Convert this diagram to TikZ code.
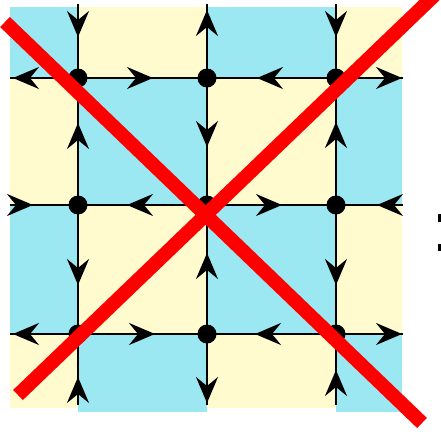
\documentclass[tikz,border=0pt]{standalone}
\usetikzlibrary{arrows.meta,decorations.markings}
\definecolor{tcyan}{RGB}{155,232,242}
\definecolor{tyel}{RGB}{255,251,207}
\definecolor{xred}{RGB}{255,0,0}
\tikzset{
  myarrow/.tip={Stealth[length=26pt,width=22pt,inset=9pt]},
  dot/.style={circle,fill=black,inner sep=0pt,minimum size=19pt},
  gridline/.style={line width=2.3pt,black},
  fw/.style={gridline,postaction={decorate},decoration={markings,mark=at position #1 with {\arrow{myarrow}}}},
  bw/.style={gridline,postaction={decorate},decoration={markings,mark=at position #1 with {\arrowreversed{myarrow}}}},
  cross/.style={xred,line width=14pt},
  tile/.style={fill=tcyan}
}
\begin{document}
\begin{tikzpicture}[x=1pt,y=-1pt]
\useasboundingbox (0,0) rectangle (441,434);
% checkerboard
\fill[tyel] (10,7) rectangle (402,408);
\fill[tile] (10,7) rectangle (78,78);
\fill[tile] (207,7) rectangle (336,78);
\fill[tile] (78,78) rectangle (207,205);
\fill[tile] (336,78) rectangle (402,205);
\fill[tile] (10,205) rectangle (78,334);
\fill[tile] (207,205) rectangle (336,334);
\fill[tile] (78,334) rectangle (207,412);
\fill[tile] (336,334) rectangle (402,412);
% grid points
\coordinate (A1) at (78,78);  \coordinate (A2) at (207,78);  \coordinate (A3) at (336,78);
\coordinate (B1) at (78,205); \coordinate (B2) at (207,205); \coordinate (B3) at (336,205);
\coordinate (C1) at (78,334); \coordinate (C2) at (207,334); \coordinate (C3) at (336,334);
% free ends
\coordinate (LA) at (10,78);  \coordinate (RA) at (403,78);
\coordinate (LB) at (10,205); \coordinate (RB) at (403,205);
\coordinate (LC) at (10,334); \coordinate (RC) at (403,334);
\coordinate (T1) at (78,4);   \coordinate (D1) at (78,405);
\coordinate (T2) at (207,4);  \coordinate (D2) at (207,405);
\coordinate (T3) at (336,4);  \coordinate (D3) at (336,405);
% row A
\draw[fw=-3pt] (A1) -- (LA);
\draw[fw=75pt] (A1) -- (A2);
\draw[bw=50pt] (A2) -- (A3);
\draw[fw=-1pt] (A3) -- (RA);
% row B
\draw[bw=45pt] (B1) -- (LB);
\draw[bw=49pt] (B1) -- (B2);
\draw[fw=75pt] (B2) -- (B3);
\draw[bw=41pt] (B3) -- (RB);
% row C
\draw[fw=-3pt] (C1) -- (LC);
\draw[fw=77pt] (C1) -- (C2);
\draw[bw=48pt] (C2) -- (C3);
\draw[fw=-1pt] (C3) -- (RC);
% column 1
\draw[bw=41pt] (A1) -- (T1);
\draw[bw=45pt] (A1) -- (B1);
\draw[fw=80pt] (B1) -- (C1);
\draw[bw=43pt] (C1) -- (D1);
% column 2
\draw[fw=-6pt] (A2) -- (T2);
\draw[fw=69pt] (A2) -- (B2);
\draw[bw=48pt] (B2) -- (C2);
\draw[fw=-2pt] (C2) -- (D2);
% column 3
\draw[bw=41pt] (A3) -- (T3);
\draw[bw=44pt] (A3) -- (B3);
\draw[fw=80pt] (B3) -- (C3);
\draw[bw=36pt] (C3) -- (D3);
% dots
\foreach \p in {A1,A2,A3,B1,B2,B3,C1,C2,C3}
  \node[dot] (d\p) at (\p) {};
% cut-off marks at the right edge
\fill[black] (438,214) rectangle (441,222);
\fill[black] (438,244) rectangle (441,251);
% red cross
\coordinate (X1) at (5,22);   \coordinate (X2) at (422,423);
\coordinate (X3) at (18,395); \coordinate (X4) at (440,-10);
\draw[cross] (X1) -- (X2);
\draw[cross] (X3) -- (X4);
\end{tikzpicture}
\end{document}
